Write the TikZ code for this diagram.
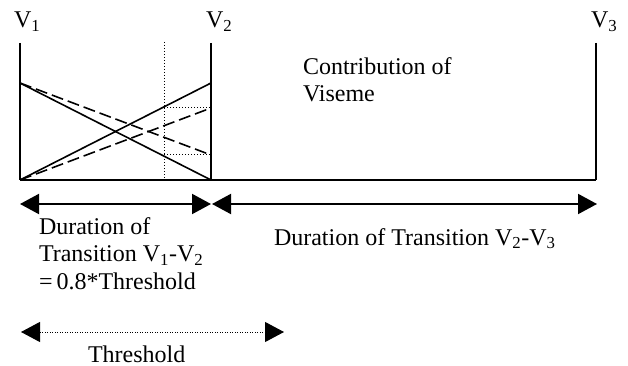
\documentclass[tikz,border=0pt]{standalone}
\usepackage{fontspec}
\setmainfont{Liberation Serif}
\usetikzlibrary{arrows.meta}
\begin{document}
\begin{tikzpicture}[x=1pt,y=-1pt,
  lbl/.style={font=\fontsize{24}{27.5}\selectfont, inner sep=0pt, outer sep=0pt},
  axisline/.style={line width=2pt},
  diag/.style={line width=1.6pt},
  dashdiag/.style={line width=1.6pt, dash pattern=on 12pt off 5pt},
  dotline/.style={line width=1pt, dash pattern=on 1pt off 2pt},
  durarrow/.style={line width=2pt, {Triangle[length=19pt,width=20pt]}-{Triangle[length=19pt,width=20pt]}},
  thrarrow/.style={line width=1pt, dash pattern=on 1pt off 1.5pt, {Triangle[length=19pt,width=20pt]}-{Triangle[length=19pt,width=20pt]}}
]
\useasboundingbox (0,0) rectangle (628,366);
% key coordinates
\coordinate (a1) at (20,43);  \coordinate (b1) at (20,180);
\coordinate (a2) at (211,43); \coordinate (b2) at (211,180);
\coordinate (a3) at (596,43); \coordinate (b3) at (596,180);
\coordinate (d1) at (164,42); \coordinate (d2) at (164,182);
\coordinate (h1) at (20,83);  \coordinate (h2) at (211,83);
\coordinate (m1) at (211,108); \coordinate (m2) at (211,155);
\coordinate (p1) at (164,108); \coordinate (p2) at (164,155);
% frame lines
\draw[axisline] (a1) -- (b1);
\draw[axisline] (a2) -- (b2);
\draw[axisline] (a3) -- (b3);
\draw[axisline] (b1) -- (b3);
% dotted lines
\draw[dotline] (d1) -- (d2);
\draw[dotline] (p1) -- (m1);
\draw[dotline] (p2) -- (m2);
% diagonals
\draw[diag] (h1) -- (b2);
\draw[diag] (b1) -- (h2);
\draw[dashdiag] (h1) -- (m2);
\draw[dashdiag] (b1) -- (m1);
% labels
\node[lbl, anchor=base west] (v1) at (14,28) {V\textsubscript{1}};
\node[lbl, anchor=base west] (v2) at (206,28) {V\textsubscript{2}};
\node[lbl, anchor=base west] (v3) at (591,28) {V\textsubscript{3}};
\node[lbl, anchor=base west, align=left] (contrib) at (303,102) {Contribution of\\Viseme};
% arrows
\coordinate (r1l) at (20,204); \coordinate (r1r) at (211,204);
\coordinate (r2l) at (212,204); \coordinate (r2r) at (597,204);
\draw[durarrow] (r1l) -- (r1r);
\draw[durarrow] (r2l) -- (r2r);
\node[lbl, anchor=base west, align=left] (dur1) at (39,289) {Duration of\\Transition V\textsubscript{1}-V\textsubscript{2}\\=\,0.8*Threshold};
\node[lbl, anchor=base west] (dur2) at (274,245) {Duration of Transition V\textsubscript{2}-V\textsubscript{3}};
\coordinate (tl) at (21,332); \coordinate (tr) at (284,332);
\draw[thrarrow] (tl) -- (tr);
\node[lbl, anchor=base west] (thr) at (88,362) {Threshold};
\end{tikzpicture}
\end{document}
